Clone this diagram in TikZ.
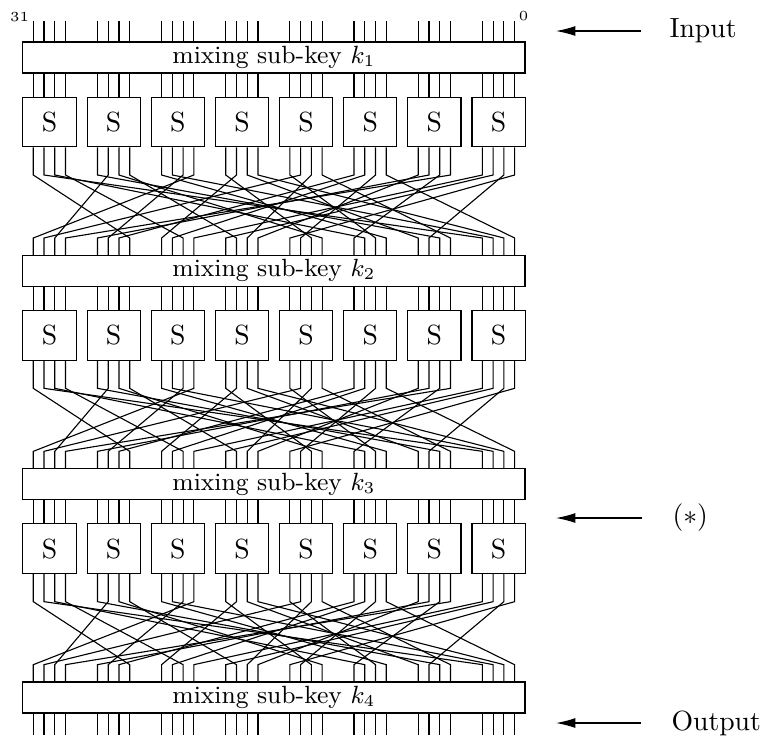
\documentclass[tikz,border=0pt]{standalone}
\usetikzlibrary{arrows.meta}
\tikzset{
  keybox/.style={draw, minimum width=181.3pt, minimum height=11.2pt, inner sep=0pt, font=\small},
  sbox/.style={draw, minimum width=19.2pt, minimum height=18pt, inner sep=0pt},
  bitno/.style={font=\tiny, inner sep=0pt},
  side/.style={anchor=west, inner sep=0pt},
}
\begin{document}
\begin{tikzpicture}[x=0.361pt, y=-0.361pt, >={Latex[length=7pt,width=3.6pt]}]
  \useasboundingbox (0,0) rectangle (761,736);
  % wire columns, bit 31 on the left
  \foreach \i in {0,...,31}
    \coordinate (x\i) at ({33.3+64.15*int(\i/4)+10.75*mod(\i,4)},0);
  \coordinate (intop) at (0,21);
  \coordinate (outbot) at (0,735);
  % key mixing
  \foreach \r in {1,...,4}
    \node[keybox] (key\r) at (273.9,{57.5+213.33*(\r-1)}) {mixing sub-key $k_\r$};
  \foreach \i in {0,...,31} {
    \draw (x\i |- intop) -- (x\i |- key1.north);
    \draw (x\i |- key4.south) -- (x\i |- outbot);
  }
  % S-boxes and the bit permutation
  \foreach \r in {1,2,3} {
    \pgfmathtruncatemacro\rr{\r+1}
    \foreach \k in {0,...,7}
      \node[sbox] (s\r-\k) at ({49.5+64.15*\k},{122+213.33*(\r-1)}) {S};
    \coordinate (hi\r) at (0,{175+213.33*(\r-1)});
    \coordinate (lo\r) at (0,{238+213.33*(\r-1)});
    \foreach \i/\j in {0/7,1/28,2/21,3/10,4/26,5/2,6/19,7/13,8/23,9/29,10/5,11/0,
                       12/18,13/8,14/24,15/30,16/22,17/1,18/14,19/27,20/6,21/9,22/17,23/31,
                       24/15,25/4,26/20,27/3,28/11,29/12,30/25,31/16} {
      \pgfmathtruncatemacro\k{\i/4}
      \draw (x\i |- key\r.south) -- (x\i |- s\r-\k.north);
      \draw (x\i |- s\r-\k.south) -- (x\i |- hi\r) -- (x\j |- lo\r) -- (x\j |- key\rr.north);
    }
  }
  % bit numbers
  \node[bitno] (msb) at (19.5,17) {31};
  \node[bitno] (lsb) at (523.5,16) {0};
  % labels on the right
  \node[side] (input) at (669,31) {Input};
  \node[side] (star) at (672,518) {$(*)$};
  \node[side] (output) at (671,723) {Output};
  \coordinate (inTip) at (556,31);
  \coordinate (starTip) at (556,518);
  \coordinate (outTip) at (556,723);
  \draw[->] ([xshift=-10pt]input.west) -- (inTip);
  \draw[->] ([xshift=-11pt]star.west) -- (starTip);
  \draw[->] ([xshift=-11pt]output.west) -- (outTip);
\end{tikzpicture}
\end{document}
